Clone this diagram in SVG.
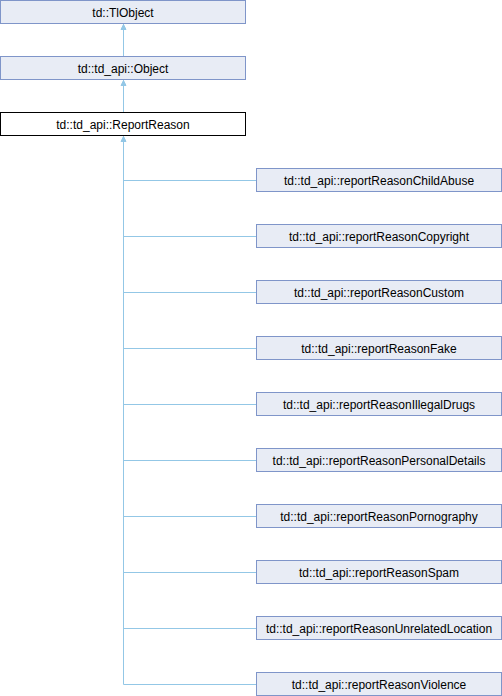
<svg xmlns="http://www.w3.org/2000/svg" width="502" height="696" viewBox="0 0 502 696">
<style>
.n rect{fill:#e8ecf5;stroke:#7f95c9;stroke-width:1}
.c rect{fill:#ffffff;stroke:#000000;stroke-width:1}
text{font-family:"Liberation Sans",Arial,sans-serif;font-size:12px;fill:#000;text-anchor:middle}
.e line{stroke:#93c7e6;stroke-width:1}
.e path{fill:#93c7e6;stroke:#93c7e6;stroke-width:1}
</style>
<rect width="502" height="696" fill="#fff"/>
<g class="e" id="connectors">
<line x1="123.5" y1="24" x2="123.5" y2="56"/>
<path d="M123.5 24.5 L121 29.5 L126 29.5 Z"/>
<line x1="123.5" y1="80" x2="123.5" y2="112"/>
<path d="M123.5 80.5 L121 85.5 L126 85.5 Z"/>
<line x1="123.5" y1="136" x2="123.5" y2="684.5"/>
<path d="M123.5 136.5 L121 141.5 L126 141.5 Z"/>
<line x1="123.5" y1="180.5" x2="256" y2="180.5"/>
<line x1="123.5" y1="236.5" x2="256" y2="236.5"/>
<line x1="123.5" y1="292.5" x2="256" y2="292.5"/>
<line x1="123.5" y1="348.5" x2="256" y2="348.5"/>
<line x1="123.5" y1="404.5" x2="256" y2="404.5"/>
<line x1="123.5" y1="460.5" x2="256" y2="460.5"/>
<line x1="123.5" y1="516.5" x2="256" y2="516.5"/>
<line x1="123.5" y1="572.5" x2="256" y2="572.5"/>
<line x1="123.5" y1="628.5" x2="256" y2="628.5"/>
<line x1="123.5" y1="684.5" x2="256" y2="684.5"/>
</g>
<g class="n" id="TlObject"><rect x="0.5" y="0.5" width="245" height="23"/><text x="123" y="16.5">td::TlObject</text></g>
<g class="n" id="Object"><rect x="0.5" y="56.5" width="245" height="23"/><text x="123" y="72.5">td::td_api::Object</text></g>
<g class="c" id="ReportReason"><rect x="0.5" y="112.5" width="245" height="23"/><text x="123" y="128.5">td::td_api::ReportReason</text></g>
<g class="n" id="ChildAbuse"><rect x="256.5" y="168.5" width="245" height="23"/><text x="379" y="184.5">td::td_api::reportReasonChildAbuse</text></g>
<g class="n" id="Copyright"><rect x="256.5" y="224.5" width="245" height="23"/><text x="379" y="240.5">td::td_api::reportReasonCopyright</text></g>
<g class="n" id="Custom"><rect x="256.5" y="280.5" width="245" height="23"/><text x="379" y="296.5">td::td_api::reportReasonCustom</text></g>
<g class="n" id="Fake"><rect x="256.5" y="336.5" width="245" height="23"/><text x="379" y="352.5">td::td_api::reportReasonFake</text></g>
<g class="n" id="IllegalDrugs"><rect x="256.5" y="392.5" width="245" height="23"/><text x="379" y="408.5">td::td_api::reportReasonIllegalDrugs</text></g>
<g class="n" id="PersonalDetails"><rect x="256.5" y="448.5" width="245" height="23"/><text x="379" y="464.5">td::td_api::reportReasonPersonalDetails</text></g>
<g class="n" id="Pornography"><rect x="256.5" y="504.5" width="245" height="23"/><text x="379" y="520.5">td::td_api::reportReasonPornography</text></g>
<g class="n" id="Spam"><rect x="256.5" y="560.5" width="245" height="23"/><text x="379" y="576.5">td::td_api::reportReasonSpam</text></g>
<g class="n" id="UnrelatedLocation"><rect x="256.5" y="616.5" width="245" height="23"/><text x="379" y="632.5">td::td_api::reportReasonUnrelatedLocation</text></g>
<g class="n" id="Violence"><rect x="256.5" y="672.5" width="245" height="23"/><text x="379" y="688.5">td::td_api::reportReasonViolence</text></g>
</svg>
